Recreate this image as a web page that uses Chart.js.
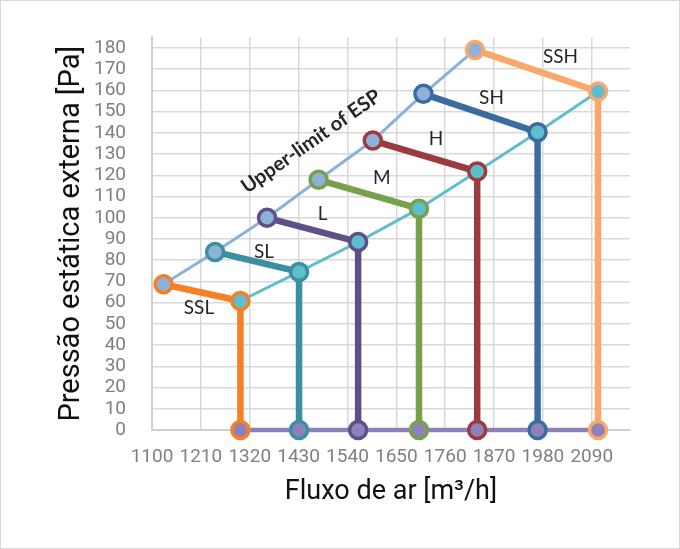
<!DOCTYPE html>
<html>
<head>
<meta charset="utf-8">
<script src="https://cdn.jsdelivr.net/npm/chart.js@4.4.1/dist/chart.umd.min.js"></script>
<style>
    html, body { margin: 0; padding: 0; background: #fff; }
    #wrap { width: 680px; height: 549px; }
</style>
</head>
<body>
<div id="wrap"><canvas id="chart" width="680" height="549"></canvas></div>
<script>
// dados
const seriesNames = ['SSL', 'SL', 'L', 'M', 'H', 'SH', 'SSH'];
const upperX = [1126, 1242, 1359, 1475, 1597, 1711, 1827];
const upperY = [68.7, 83.9, 100, 117.9, 136.4, 158.4, 179.1];
const lowerX = [1299, 1431, 1564, 1701, 1832, 1968, 2104];
const lowerY = [60.8, 74.5, 88.6, 104.3, 121.8, 140.3, 159.5];
const xTickValues = [1100, 1210, 1320, 1430, 1540, 1650, 1760, 1870, 1980, 2090];
const yTickValues = [0, 10, 20, 30, 40, 50, 60, 70, 80, 90, 100, 110, 120, 130, 140, 150, 160, 170, 180];

// cores
const seriesColors = ['#F58025', '#3A8FA1', '#5E4F87', '#77A04A', '#9B3B3E', '#3C6B9F', '#F9A76B'];
const upperColor = '#8DB1D8';
const lowerColor = '#5FBDD0';
const bottomColor = '#8E80B9';

// deslocamento dos rótulos em relação ao meio de cada segmento (px)
const labelOffsets = [[-3, 15], [7, -10], [10, -16], [13, -16], [11, -17], [11, -15], [24, -14]];

const seriesDatasets = seriesNames.map((name, i) => ({
    label: name,
    data: [
        { x: upperX[i], y: upperY[i] },
        { x: lowerX[i], y: lowerY[i] },
        { x: lowerX[i], y: 0 }
    ],
    showLine: true,
    borderColor: seriesColors[i],
    borderWidth: 6.5,
    pointRadius: 8.5,
    pointBorderWidth: 3.5,
    pointBorderColor: seriesColors[i],
    pointBackgroundColor: [upperColor, lowerColor, bottomColor],
    clip: false
}));

const lineDatasets = [
    {
        label: 'Upper-limit of ESP',
        data: upperX.map((v, i) => ({ x: v, y: upperY[i] })),
        color: upperColor,
        width: 3
    },
    {
        label: 'lower',
        data: lowerX.map((v, i) => ({ x: v, y: lowerY[i] })),
        color: lowerColor,
        width: 3
    },
    {
        label: 'bottom',
        data: lowerX.map(v => ({ x: v, y: 0 })),
        color: bottomColor,
        width: 4.5
    }
].map(d => ({
    label: d.label,
    data: d.data,
    showLine: true,
    borderColor: d.color,
    borderWidth: d.width,
    pointRadius: 0,
    clip: false
}));

const labelPlugin = {
    id: 'seriesLabels',
    beforeDraw(chart) {
        const ctx = chart.ctx;
        ctx.save();
        ctx.fillStyle = '#fff';
        ctx.fillRect(0, 0, chart.width, chart.height);
        ctx.strokeStyle = '#d9d9d9';
        ctx.lineWidth = 1;
        ctx.strokeRect(0.5, 0.5, chart.width - 1, chart.height - 1);
        ctx.restore();
    },
    afterDatasetsDraw(chart) {
        const { ctx, scales: { x, y } } = chart;
        ctx.save();
        ctx.fillStyle = '#262626';
        ctx.textAlign = 'center';
        ctx.textBaseline = 'middle';
        ctx.font = '19px Lato';
        seriesNames.forEach((name, i) => {
            const mx = x.getPixelForValue((upperX[i] + lowerX[i]) / 2);
            const my = y.getPixelForValue((upperY[i] + lowerY[i]) / 2);
            ctx.fillText(name, mx + labelOffsets[i][0], my + labelOffsets[i][1]);
        });
        ctx.translate(x.getPixelForValue(1458), y.getPixelForValue(136));
        ctx.rotate(-35 * Math.PI / 180);
        ctx.font = 'bold 20px Lato';
        ctx.fillText('Upper-limit of ESP', 0, 0);
        ctx.restore();
    }
};

new Chart(document.getElementById('chart'), {
    type: 'scatter',
    data: {
        datasets: [...seriesDatasets, ...lineDatasets]
    },
    options: {
        responsive: false,
        animation: false,
        events: [],
        layout: {
            padding: { top: 37, right: 50, bottom: 19, left: 0 }
        },
        plugins: {
            legend: { display: false },
            tooltip: { enabled: false }
        },
        scales: {
            x: {
                type: 'linear',
                min: 1100,
                max: 2176,
                afterBuildTicks: scale => {
                    scale.ticks = xTickValues.map(v => ({ value: v }));
                },
                afterFit: scale => { scale.height = 100; },
                grid: { color: '#d9d9d9', lineWidth: 1.5, drawTicks: false },
                border: { color: '#cfcfcf', width: 2 },
                ticks: {
                    padding: 16,
                    maxRotation: 0,
                    autoSkip: false,
                    color: '#808080',
                    font: { family: 'Roboto', size: 19 },
                    callback: v => String(v)
                },
                title: {
                    display: true,
                    text: 'Fluxo de ar [m³/h]',
                    color: '#111',
                    font: { family: 'Roboto', size: 27 },
                    padding: { top: 0, bottom: 22 }
                }
            },
            y: {
                type: 'linear',
                min: 0,
                max: 185,
                afterBuildTicks: scale => {
                    scale.ticks = yTickValues.map(v => ({ value: v }));
                },
                afterFit: scale => { scale.width = 152; },
                grid: { color: '#d9d9d9', lineWidth: 1.5, drawTicks: false },
                border: { color: '#cfcfcf', width: 2 },
                ticks: {
                    padding: 26,
                    autoSkip: false,
                    color: '#808080',
                    font: { family: 'Roboto', size: 19 },
                    callback: v => String(v)
                },
                title: {
                    display: true,
                    text: 'Pressão estática externa [Pa]',
                    color: '#111',
                    font: { family: 'Roboto', size: 29 },
                    padding: { top: 54, bottom: 0 }
                }
            }
        }
    },
    plugins: [labelPlugin]
});
</script>
</body>
</html>
